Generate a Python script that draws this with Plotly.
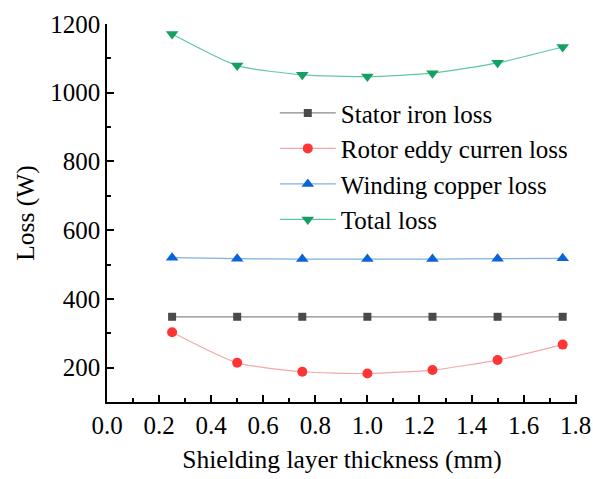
import plotly.graph_objects as go

# Shielding layer thickness (mm)
thickness = [0.25, 0.5, 0.75, 1.0, 1.25, 1.5, 1.75]

# Losses (W)
stator_iron = [348, 348, 348, 348, 348, 348, 348]
rotor_eddy = [303, 214, 188, 183, 193, 222, 267]
winding_copper = [520, 517, 516, 516, 516, 517, 518]
total_loss = [1171, 1079, 1052, 1047, 1057, 1087, 1133]

x_ticks = [0.0, 0.2, 0.4, 0.6, 0.8, 1.0, 1.2, 1.4, 1.6, 1.8]
y_ticks = [200, 400, 600, 800, 1000, 1200]

FONT = "Liberation Serif, Times New Roman, serif"

series = [
    ("Stator iron loss", stator_iron, "#8a8a8a", "#4a4a4a", "square", 8),
    ("Rotor eddy curren loss", rotor_eddy, "#f3a8a8", "#ff3535", "circle", 10),
    ("Winding copper loss", winding_copper, "#7fb0e0", "#0a64d8", "triangle-up", 11),
    ("Total loss", total_loss, "#5fc8a0", "#13a062", "triangle-down", 11),
]

fig = go.Figure()
for name, vals, lcol, mcol, sym, size in series:
    fig.add_trace(go.Scatter(
        x=thickness, y=vals, name=name, mode="lines+markers",
        line=dict(color=lcol, width=1.2, shape="spline", smoothing=0.6),
        marker=dict(symbol=sym, size=size, color=mcol, line=dict(width=0)),
    ))

axis_common = dict(
    showline=True, linecolor="black", linewidth=1.5,
    ticks="inside", ticklen=7, tickwidth=1.5, tickcolor="black",
    showgrid=False, zeroline=False, mirror=False, automargin=False,
    ticklabeloverflow="allow",
    tickfont=dict(family=FONT, size=25, color="black"),
)

fig.update_xaxes(
    range=[0, 1.805], tickvals=x_ticks, ticktext=[f"{v:.1f}" for v in x_ticks],
    minor=dict(dtick=0.1, ticks="inside", ticklen=4, tickwidth=1.5, tickcolor="black"),
    title=dict(text="Shielding layer thickness (mm)",
               font=dict(family=FONT, size=25.5, color="black"), standoff=12),
    **axis_common,
)
fig.update_yaxes(
    range=[100, 1200], tickvals=y_ticks,
    minor=dict(dtick=100, ticks="inside", ticklen=4, tickwidth=1.5, tickcolor="black"),
    title=dict(text="Loss (W)",
               font=dict(family=FONT, size=25.5, color="black"), standoff=8),
    **axis_common,
)

fig.update_layout(
    width=593, height=479,
    margin=dict(l=107, r=16, t=24, b=77),
    paper_bgcolor="white", plot_bgcolor="white",
    showlegend=True,
    legend=dict(
        x=0.357, y=0.825, xanchor="left", yanchor="top",
        font=dict(family=FONT, size=25, color="black"),
        bgcolor="rgba(0,0,0,0)", itemwidth=56, tracegroupgap=0,
    ),
)

fig.write_html("out.html")
